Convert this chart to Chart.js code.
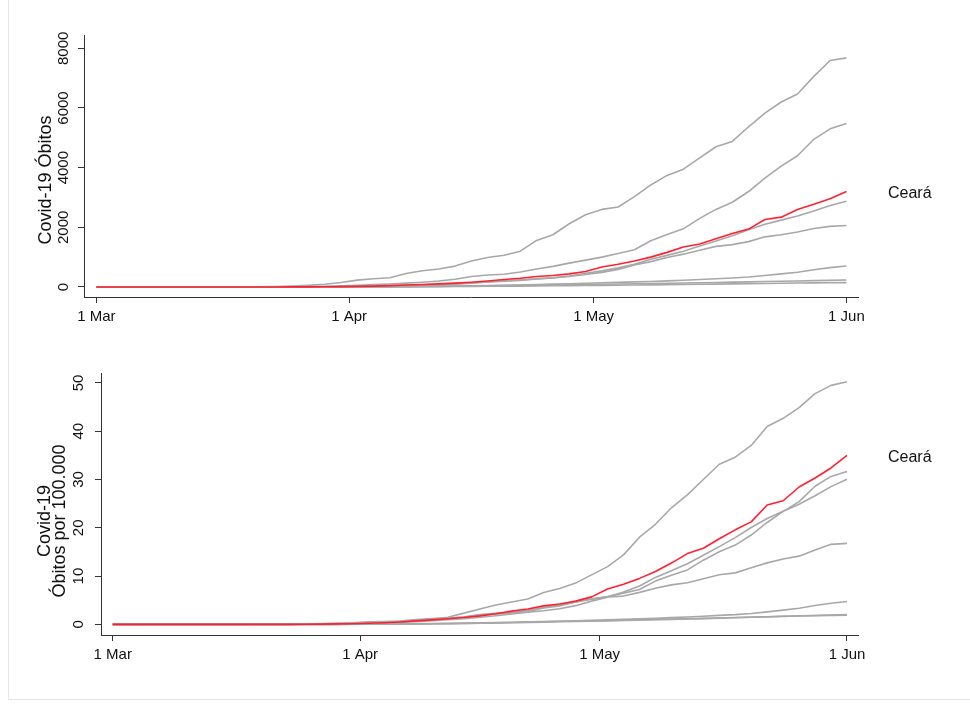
<!DOCTYPE html>
<html lang="pt">
<head>
<meta charset="utf-8">
<title>Covid-19 Óbitos - Ceará</title>
<script src="https://cdn.jsdelivr.net/npm/chart.js@4.4.1/dist/chart.umd.min.js"></script>
<style>
  html, body { margin: 0; padding: 0; background: #fff; }
  #quadro { position: relative; width: 970px; height: 711px; overflow: hidden; }
  #moldura { position: absolute; left: 8px; top: 0; width: 980px; height: 699px;
    border-left: 1px solid #e6e6e6; border-bottom: 1px solid #e6e6e6; }
  canvas { position: absolute; left: 0; }
  #graficoObitos { top: 0; }
  #graficoTaxa { top: 345px; }
</style>
</head>
<body>
<div id="quadro">
  <div id="moldura"></div>
  <canvas id="graficoObitos" width="970" height="345"></canvas>
  <canvas id="graficoTaxa" width="970" height="366"></canvas>
</div>
<script>
// dias desde 1 de março (de 2 em 2 dias)
const dias = [0, 2, 4, 6, 8, 10, 12, 14, 16, 18, 20, 22, 24, 26, 28, 30, 32, 34, 36, 38, 40, 42, 44, 46,
  48, 50, 52, 54, 56, 58, 60, 62, 64, 66, 68, 70, 72, 74, 76, 78, 80, 82, 84, 86, 88, 90, 92];

const ticksDias = [0, 31, 61, 92];
const ticksRotulos = ["1 Mar", "1 Apr", "1 May", "1 Jun"];
const ticksObitos = [0, 2000, 4000, 6000, 8000];
const ticksTaxa = [0, 10, 20, 30, 40, 50];

// óbitos acumulados
const obitosCeara = [0, 0, 0, 0, 0, 0, 0, 0, 0, 0, 0, 0, 2, 5, 8, 12, 20, 30, 45, 65, 85, 105, 130, 160,
  200, 250, 290, 350, 385, 440, 520, 670, 760, 870, 1000, 1160, 1340, 1440, 1620, 1790, 1940, 2260, 2340, 2600, 2770, 2960, 3200];
const obitos1 = [0, 0, 0, 0, 0, 0, 0, 0, 2, 5, 9, 15, 30, 55, 90, 150, 230, 275, 310, 450, 545, 600, 700, 870,
  990, 1065, 1200, 1560, 1750, 2120, 2420, 2600, 2680, 3030, 3420, 3740, 3950, 4330, 4700, 4880, 5370, 5830, 6200, 6470, 7060, 7590, 7680];
const obitos2 = [0, 0, 0, 0, 0, 0, 0, 0, 0, 1, 2, 4, 8, 15, 25, 40, 60, 80, 100, 130, 160, 200, 260, 350,
  400, 425, 500, 600, 690, 800, 900, 1000, 1120, 1250, 1550, 1760, 1950, 2300, 2600, 2840, 3200, 3650, 4050, 4400, 4950, 5300, 5480];
const obitos3 = [0, 0, 0, 0, 0, 0, 0, 0, 0, 0, 0, 0, 1, 3, 6, 10, 20, 30, 40, 55, 70, 90, 110, 140,
  170, 205, 240, 270, 310, 370, 460, 540, 640, 760, 930, 1060, 1200, 1370, 1540, 1720, 1920, 2100, 2240, 2380, 2550, 2730, 2875];
const obitos4 = [0, 0, 0, 0, 0, 0, 0, 0, 0, 0, 0, 0, 0, 1, 2, 3, 5, 10, 20, 30, 45, 60, 95, 130,
  165, 190, 215, 270, 305, 350, 420, 490, 590, 740, 850, 990, 1100, 1230, 1360, 1420, 1520, 1680, 1750, 1840, 1960, 2030, 2060];
const obitos5 = [0, 0, 0, 0, 0, 0, 0, 0, 0, 0, 0, 0, 0, 0, 0, 1, 3, 5, 8, 12, 17, 22, 28, 36,
  46, 57, 68, 80, 95, 110, 125, 140, 155, 170, 185, 205, 225, 250, 275, 300, 335, 385, 440, 495, 580, 650, 705];
const obitos6 = [0, 0, 0, 0, 0, 0, 0, 0, 0, 0, 0, 0, 0, 0, 0, 1, 3, 5, 8, 12, 16, 21, 27, 34,
  42, 50, 58, 66, 74, 80, 86, 92, 100, 108, 116, 124, 133, 142, 152, 162, 172, 182, 192, 202, 212, 222, 232];
const obitos7 = [0, 0, 0, 0, 0, 0, 0, 0, 0, 0, 0, 0, 0, 0, 0, 1, 2, 3, 5, 7, 9, 12, 15, 18,
  22, 26, 30, 35, 40, 45, 50, 55, 60, 66, 72, 78, 84, 90, 97, 104, 111, 118, 125, 131, 137, 141, 145];

// óbitos por 100.000 habitantes
const taxaCeara = [0, 0, 0, 0, 0, 0, 0, 0, 0, 0, 0, 0, 0.02, 0.05, 0.09, 0.13, 0.22, 0.33, 0.49, 0.71, 0.93, 1.15, 1.42, 1.75,
  2.19, 2.74, 3.17, 3.83, 4.21, 4.81, 5.69, 7.33, 8.32, 9.52, 10.94, 12.69, 14.66, 15.75, 17.72, 19.58, 21.23, 24.73, 25.6, 28.45, 30.31, 32.39, 35.01];
const taxa1 = [0, 0, 0, 0, 0, 0, 0, 0, 0, 0.01, 0.02, 0.03, 0.07, 0.12, 0.2, 0.33, 0.5, 0.6, 0.68, 0.98, 1.19, 1.31, 1.53, 1.9,
  2.16, 2.33, 2.62, 3.41, 3.82, 4.63, 5.28, 5.68, 5.85, 6.62, 7.47, 8.17, 8.62, 9.45, 10.26, 10.66, 11.72, 12.73, 13.54, 14.13, 15.41, 16.57, 16.77];
const taxa2 = [0, 0, 0, 0, 0, 0, 0, 0, 0, 0.01, 0.01, 0.02, 0.05, 0.09, 0.14, 0.23, 0.35, 0.46, 0.58, 0.75, 0.92, 1.16, 1.5, 2.02,
  2.31, 2.46, 2.89, 3.47, 3.99, 4.62, 5.2, 5.78, 6.47, 7.23, 8.96, 10.17, 11.27, 13.29, 15.03, 16.42, 18.5, 21.1, 23.41, 25.43, 28.61, 30.64, 31.68];
const taxa3 = [0, 0, 0, 0, 0, 0, 0, 0, 0, 0, 0, 0, 0.01, 0.03, 0.06, 0.1, 0.21, 0.31, 0.42, 0.57, 0.73, 0.94, 1.15, 1.46,
  1.78, 2.14, 2.51, 2.82, 3.24, 3.87, 4.81, 5.64, 6.69, 7.94, 9.72, 11.08, 12.54, 14.32, 16.09, 17.97, 20.06, 21.94, 23.41, 24.87, 26.65, 28.53, 30.04];
const taxa4 = [0, 0, 0, 0, 0, 0, 0, 0, 0, 0, 0, 0, 0, 0.02, 0.05, 0.07, 0.12, 0.24, 0.49, 0.73, 1.1, 1.46, 2.32, 3.17,
  4.02, 4.63, 5.24, 6.59, 7.44, 8.54, 10.24, 11.95, 14.39, 18.05, 20.73, 24.15, 26.83, 30, 33.17, 34.63, 37.07, 40.98, 42.68, 44.88, 47.8, 49.51, 50.24];
const taxa5 = [0, 0, 0, 0, 0, 0, 0, 0, 0, 0, 0, 0, 0, 0, 0, 0.01, 0.02, 0.03, 0.05, 0.08, 0.11, 0.15, 0.19, 0.24,
  0.31, 0.38, 0.46, 0.54, 0.64, 0.74, 0.84, 0.94, 1.04, 1.14, 1.24, 1.38, 1.51, 1.68, 1.85, 2.01, 2.25, 2.58, 2.95, 3.32, 3.89, 4.36, 4.73];
const taxa6 = [0, 0, 0, 0, 0, 0, 0, 0, 0, 0, 0, 0, 0, 0, 0, 0.01, 0.03, 0.04, 0.07, 0.1, 0.14, 0.18, 0.23, 0.3,
  0.37, 0.43, 0.5, 0.57, 0.64, 0.7, 0.75, 0.8, 0.87, 0.94, 1.01, 1.08, 1.16, 1.23, 1.32, 1.41, 1.5, 1.58, 1.67, 1.76, 1.84, 1.93, 2.02];
const taxa7 = [0, 0, 0, 0, 0, 0, 0, 0, 0, 0, 0, 0, 0, 0, 0, 0.01, 0.03, 0.04, 0.07, 0.09, 0.12, 0.16, 0.2, 0.24,
  0.29, 0.34, 0.39, 0.46, 0.53, 0.59, 0.66, 0.72, 0.79, 0.87, 0.95, 1.03, 1.11, 1.18, 1.28, 1.37, 1.46, 1.55, 1.64, 1.72, 1.8, 1.86, 1.91];

const FONTE = "'Liberation Sans', Arial, Helvetica, sans-serif";
const COR_TEXTO = "#111";
const COR_EIXO = "#333";

// titulo do eixo y e o nome "Ceará" no fim da linha vermelha
const rotulosExtras = {
  id: "rotulosExtras",
  afterDraw(chart, args, opts) {
    const ctx = chart.ctx;
    ctx.save();
    ctx.fillStyle = COR_TEXTO;
    ctx.font = "18px " + FONTE;
    ctx.textAlign = "center";
    ctx.textBaseline = "middle";
    ctx.translate(opts.tituloX, opts.tituloY);
    ctx.rotate(-Math.PI / 2);
    const n = opts.titulo.length;
    opts.titulo.forEach((linha, i) => {
      ctx.fillText(linha, 0, (i - (n - 1) / 2) * 15);
    });
    ctx.restore();

    const meta = chart.getDatasetMeta(0);
    const ultimo = meta.data[meta.data.length - 1];
    ctx.save();
    ctx.fillStyle = COR_TEXTO;
    ctx.font = "16px " + FONTE;
    ctx.textAlign = "left";
    ctx.textBaseline = "middle";
    ctx.fillText("Ceará", chart.chartArea.right + 30, ultimo.y + 2);
    ctx.restore();
  }
};

function montarGrafico(id, serieCeara, outras, cfg) {
  const pontos = (serie) => serie.map((v, i) => ({ x: dias[i], y: v }));
  const conjuntos = [{ data: pontos(serieCeara), borderColor: "#ff2030", order: 0 }];
  outras.forEach((s) => conjuntos.push({ data: pontos(s), borderColor: "#a8a8a8", order: 1 }));

  return new Chart(document.getElementById(id), {
    type: "line",
    data: { datasets: conjuntos },
    plugins: [rotulosExtras],
    options: {
      responsive: false,
      animation: false,
      elements: {
        point: { radius: 0 },
        line: { borderWidth: 1.6, tension: 0, borderJoinStyle: "round", fill: false }
      },
      layout: { padding: { top: cfg.topo, right: 112, bottom: cfg.baixo, left: 0 } },
      plugins: {
        legend: { display: false },
        tooltip: { enabled: false },
        rotulosExtras: { titulo: cfg.titulo, tituloX: cfg.tituloX, tituloY: cfg.tituloY }
      },
      scales: {
        x: {
          type: "linear",
          min: cfg.xMin,
          max: cfg.xMax,
          afterBuildTicks: (s) => { s.ticks = ticksDias.map((v) => ({ value: v })); },
          afterFit: (s) => { s.height = 48; },
          ticks: {
            autoSkip: false,
            maxRotation: 0,
            padding: 5,
            color: COR_TEXTO,
            font: { family: FONTE, size: 15 },
            callback: (v, i) => ticksRotulos[i]
          },
          grid: { drawOnChartArea: false, tickLength: 6, color: COR_EIXO },
          border: { color: COR_EIXO, width: 1 }
        },
        y: {
          min: cfg.yMin,
          max: cfg.yMax,
          afterBuildTicks: (s) => { s.ticks = cfg.ticksY.map((v) => ({ value: v })); },
          afterFit: (s) => { s.width = cfg.esquerda; },
          ticks: {
            autoSkip: false,
            minRotation: 90,
            maxRotation: 90,
            crossAlign: "center",
            padding: cfg.padY,
            color: COR_TEXTO,
            font: { family: FONTE, size: 15 },
            callback: (v) => String(v)
          },
          grid: { drawOnChartArea: false, tickLength: 6, color: COR_EIXO },
          border: { color: COR_EIXO, width: 1 }
        }
      }
    }
  });
}

montarGrafico("graficoObitos", obitosCeara,
  [obitos1, obitos2, obitos3, obitos4, obitos5, obitos6, obitos7], {
    topo: 35, baixo: 0, esquerda: 84,
    xMin: -1.52, xMax: 93.42, yMin: -336, yMax: 8446,
    ticksY: ticksObitos, padY: -3,
    titulo: ["Covid-19 Óbitos"], tituloX: 46, tituloY: 180
  });

montarGrafico("graficoTaxa", taxaCeara,
  [taxa1, taxa2, taxa3, taxa4, taxa5, taxa6, taxa7], {
    topo: 28, baixo: 28, esquerda: 101,
    xMin: -1.47, xMax: 93.38, yMin: -2.21, yMax: 52.07,
    ticksY: ticksTaxa, padY: 7.5,
    titulo: ["Covid-19", "Óbitos por 100.000"], tituloX: 53, tituloY: 176
  });
</script>
</body>
</html>
